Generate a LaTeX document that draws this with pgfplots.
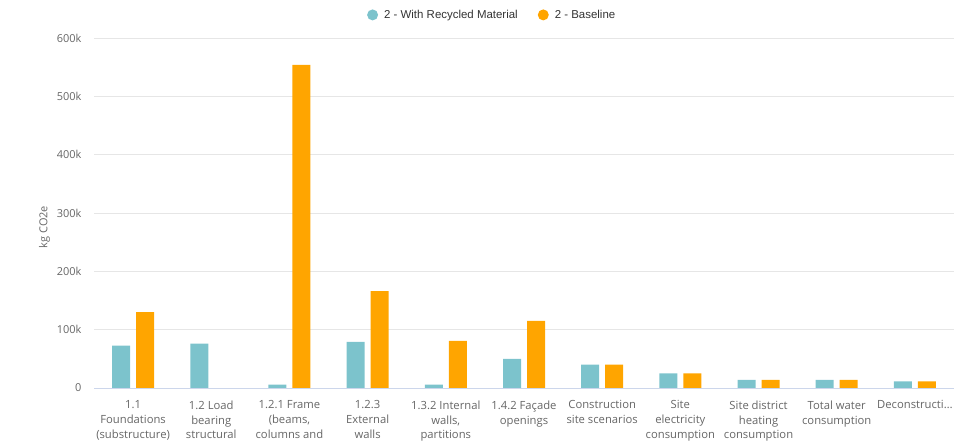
\documentclass[border=0pt]{standalone}
\usepackage{pgfplots}
\pgfplotsset{compat=1.18}
\usepackage{fontspec}
\setmainfont{Open Sans}
\newfontfamily\legfont{Liberation Sans}
\definecolor{teal1}{HTML}{7CC3CC}
\definecolor{orng}{HTML}{FFA500}
\definecolor{gridc}{HTML}{E6E6E6}
\definecolor{axc}{HTML}{CCD6EB}
\definecolor{lab}{HTML}{666666}
\definecolor{legc}{HTML}{333333}
\begin{document}
\begin{tikzpicture}
\useasboundingbox (0,0) rectangle (962bp,441bp);
\begin{axis}[
  at={(94bp,53bp)}, anchor=south west,
  scale only axis, width=860bp, height=350bp,
  xmin=-0.5, xmax=10.5, ymin=0, ymax=600000,
  ybar=6bp, bar width=18bp,
  axis lines*=left,
  x axis line style={draw=axc},
  y axis line style={draw=none},
  major tick length=0pt,
  ymajorgrids, grid style={draw=gridc, line width=0.8pt},
  ytick={0,100000,200000,300000,400000,500000,600000},
  yticklabels={0,100k,200k,300k,400k,500k,600k},
  yticklabel style={font=\fontsize{11}{13}\selectfont, text=lab, xshift=-9bp},
  ylabel={kg CO2e},
  ylabel style={font=\fontsize{11}{13}\selectfont, text=lab, at={(ticklabel cs:0.5)}, xshift=-14bp},
  scaled y ticks=false,
  xtick={0,1,2,3,4,5,6,7,8,9,10},
  xticklabels={{1.1\\Foundations\\(substructure)},{1.2 Load\\bearing\\structural\\frame},{1.2.1 Frame\\(beams,\\columns and\\slabs)},{1.2.3\\External\\walls},{1.3.2 Internal\\walls,\\partitions\\and doors},{1.4.2 Façade\\openings},{Construction\\site scenarios},{Site\\electricity\\consumption},{Site district\\heating\\consumption},{Total water\\consumption},{Deconstructi…}},
  xticklabel style={font=\fontsize{11.3}{15}\selectfont, text=lab, align=center, anchor=north, yshift=-9bp},
  legend style={at={(0.463,1.066)}, anchor=center, draw=none, fill=none,
    font=\legfont\fontsize{11.5}{14}\selectfont, text=legc,
    legend columns=2, /tikz/every even column/.append style={column sep=18bp}},
  legend cell align=left,
]
\addplot[fill=teal1, draw=none, legend image code/.code={\fill[teal1] (0bp,0bp) circle (5.5bp); \path (9.5bp,0bp);}] coordinates {
 (0,72500) (1,76000) (2,6000) (3,79000) (4,6000) (5,50000) (6,40000) (7,25000) (8,14000) (9,14000) (10,11500)};
\addlegendentry{2 - With Recycled Material}
\addplot[fill=orng, draw=none, legend image code/.code={\fill[orng] (0bp,0bp) circle (5.5bp); \path (9.5bp,0bp);}] coordinates {
 (0,130000) (1,0) (2,554000) (3,166000) (4,81000) (5,115000) (6,40000) (7,25000) (8,14000) (9,14000) (10,11500)};
\addlegendentry{2 - Baseline}
\end{axis}
\end{tikzpicture}
\end{document}
